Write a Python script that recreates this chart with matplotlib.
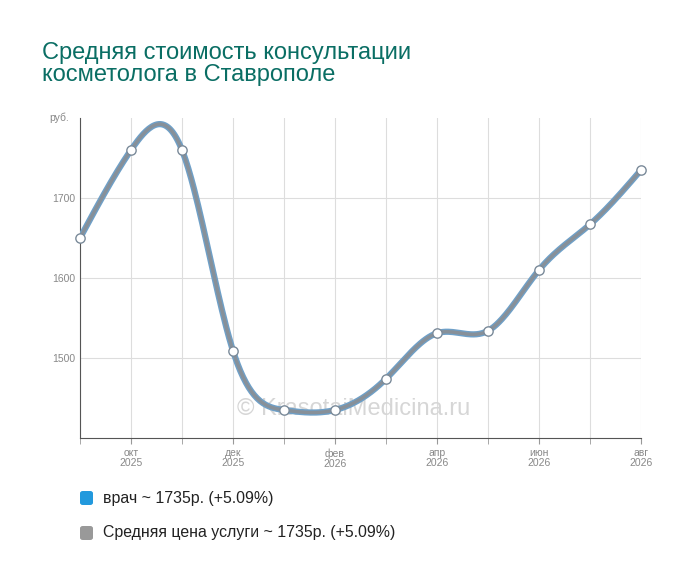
import numpy as np
import matplotlib
matplotlib.use("Agg")
import matplotlib.pyplot as plt
from matplotlib.patches import FancyBboxPatch

plt.rcParams['font.family'] = ['Liberation Sans', 'DejaVu Sans']

months = list(range(12))
values = [1650, 1760, 1760, 1509, 1435, 1435, 1474, 1531, 1534, 1610, 1667, 1735]
tick_pos = [1, 3, 5, 7, 9, 11]
tick_labels = ["окт\n2025", "дек\n2025", "фев\n2026", "апр\n2026", "июн\n2026", "авг\n2026"]
legend_labels = ["врач ~ 1735р. (+5.09%)", "Средняя цена услуги ~ 1735р. (+5.09%)"]

def natural_spline(x, y, n=400):
    x = np.asarray(x, float); y = np.asarray(y, float)
    N = len(x); h = np.diff(x)
    A = np.zeros((N, N)); b = np.zeros(N)
    A[0, 0] = A[-1, -1] = 1
    for i in range(1, N-1):
        A[i, i-1] = h[i-1]; A[i, i] = 2*(h[i-1]+h[i]); A[i, i+1] = h[i]
        b[i] = 3*((y[i+1]-y[i])/h[i] - (y[i]-y[i-1])/h[i-1])
    c = np.linalg.solve(A, b)
    xs = np.linspace(x[0], x[-1], n); ys = np.empty_like(xs)
    for k, xv in enumerate(xs):
        i = min(np.searchsorted(x, xv, side='right')-1, N-2)
        d = xv-x[i]
        bi = (y[i+1]-y[i])/h[i] - h[i]*(2*c[i]+c[i+1])/3
        di = (c[i+1]-c[i])/(3*h[i])
        ys[k] = y[i] + bi*d + c[i]*d**2 + di*d**3
    return xs, ys

fig = plt.figure(figsize=(7, 5.82), dpi=100)
ax = fig.add_axes([80/700, 1-438/582, (641-80)/700, 320/582])
xs, ys = natural_spline(months, values)
ax.plot(xs, ys, color='#6fa0c8', lw=4.5, solid_capstyle='round', zorder=3)
ax.plot(xs, ys, color='#8a8f94', lw=2.5, alpha=0.9, zorder=4)
ax.scatter(months, values, s=45, facecolor='white', edgecolor='#7a8a99', lw=1, zorder=5, clip_on=False)
ax.set_xlim(0, 11); ax.set_ylim(1400, 1800)
ax.set_yticks([1500, 1600, 1700])
ax.set_xticks(months, minor=True)
ax.set_xticks(tick_pos)
ax.set_xticklabels(tick_labels, fontsize=7.5, color='#888888', linespacing=1.0)
ax.tick_params(axis='y', labelsize=7.5, colors='#888888', length=0)
ax.tick_params(axis='x', which='both', length=4, color='#999999')
ax.grid(True, which='both', color='#dddddd', lw=0.8)
for s in ['top', 'right']:
    ax.spines[s].set_visible(False)
ax.spines['left'].set_color('#555555'); ax.spines['bottom'].set_color('#555555')
ax.text(-0.02, 1800, "руб.", ha='right', va='center', fontsize=7.5, color='#888888',
        transform=ax.get_yaxis_transform())
ax.text(0.488, 0.09, "© KrasotaiMedicina.ru", transform=ax.transAxes, ha='center', va='center',
        fontsize=17, color='#d6d6d6', zorder=2)

fig.text(42/700, 1-64/582, "Средняя стоимость консультации\nкосметолога в Ставрополе",
         fontsize=17, color='#0a6e64', va='center', ha='left', linespacing=1.05)

for yy, col, lab in [(498, '#2299dd', legend_labels[0]), (533, '#999999', legend_labels[1])]:
    fig.patches.append(FancyBboxPatch((80/700, 1-(yy+7)/582), 13/700, 14/582,
        boxstyle="round,pad=0,rounding_size=0.004", transform=fig.transFigure,
        facecolor=col, edgecolor='none'))
    fig.text(103/700, 1-yy/582, lab, fontsize=11.4, color='#222222', va='center')

fig.savefig("out.png", dpi=100)
